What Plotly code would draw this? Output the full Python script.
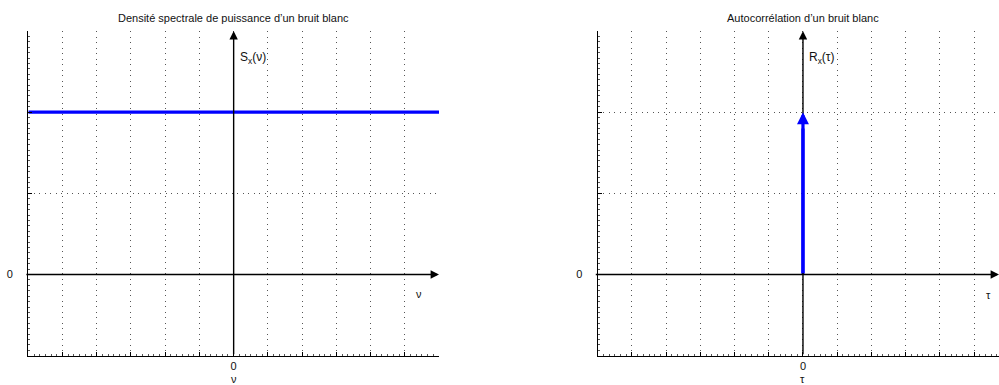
import plotly.graph_objects as go

# ---- data ----
nu_values = [-6, 6]            # frequency span of the flat PSD
psd_values = [2, 2]            # S_x(nu) = constant
tau_values = [0, 0]            # Dirac at tau = 0
autocorr_values = [0, 2]       # height of the Dirac arrow
x_ticks = [-6, -5, -4, -3, -2, -1, 0, 1, 2, 3, 4, 5, 6]
x_ticktext = ["", "", "", "", "", "", "0", "", "", "", "", "", ""]
y_ticks = [-1, 0, 1, 2, 3]
y_ticktext = ["", "0", "", "", ""]
left_title = "Densité spectrale de puissance d’un bruit blanc"
right_title = "Autocorrélation d’un bruit blanc"

W, H = 999, 385
FONT = "Liberation Sans, Arial, sans-serif"
GRIDC = "#555"

fig = go.Figure()
fig.add_trace(go.Scatter(x=nu_values, y=psd_values, mode="lines",
                         line=dict(color="#0000ff", width=3.2),
                         xaxis="x", yaxis="y", showlegend=False, hoverinfo="skip"))
fig.add_trace(go.Scatter(x=tau_values, y=[autocorr_values[0], autocorr_values[1] - 0.2], mode="lines",
                         line=dict(color="#0000ff", width=3.2),
                         xaxis="x2", yaxis="y2", showlegend=False, hoverinfo="skip"))

def px_x(p):
    return p / W

def px_y(p):
    return 1 - p / H

ydom = [px_y(355.7), px_y(31)]
xaxis_common = dict(
    tickmode="array", tickvals=x_ticks, ticktext=x_ticktext,
    showgrid=True, gridcolor=GRIDC, griddash="1px,4.5px", gridwidth=1,
    zeroline=False, showline=True, linecolor="black", linewidth=1.3,
    ticks="inside", ticklen=4, tickcolor="black", tickwidth=1,
    minor=dict(ticks="inside", ticklen=2, dtick=1 / 6, tickcolor="#555", showgrid=False),
    tickfont=dict(family=FONT, size=11, color="#111"),
    automargin=False, fixedrange=True,
)
yaxis_common = dict(
    range=[-1, 3], tickmode="array", tickvals=y_ticks, ticktext=y_ticktext,
    showgrid=True, gridcolor=GRIDC, griddash="1px,4.5px", gridwidth=1,
    zeroline=False, showline=True, linecolor="black", linewidth=1.3,
    ticks="inside", ticklen=4, tickcolor="black", tickwidth=1,
    minor=dict(ticks="inside", ticklen=2, dtick=1 / 15, tickcolor="#555", showgrid=False),
    tickfont=dict(family=FONT, size=11, color="#111"),
    ticklabelstandoff=12,
    automargin=False, fixedrange=True,
)

fig.update_layout(
    width=W, height=H,
    margin=dict(l=0, r=0, t=0, b=0),
    paper_bgcolor="white", plot_bgcolor="white",
    showlegend=False,
    xaxis=dict(xaxis_common, domain=[px_x(28.3), px_x(439)], range=[-6, 6], anchor="y"),
    yaxis=dict(yaxis_common, domain=ydom, anchor="x"),
    xaxis2=dict(xaxis_common, domain=[px_x(597.7), 1.0], range=[-6, 5.73], anchor="y2"),
    yaxis2=dict(yaxis_common, domain=ydom, anchor="x2"),
)

ann = []
def arrow(xref, yref, x0, y0, x1, y1, color="black", width=1.4, head=2, size=1.2):
    ann.append(dict(x=x1, y=y1, ax=x0, ay=y0, xref=xref, yref=yref,
                    axref=xref, ayref=yref, text="", showarrow=True,
                    arrowhead=head, arrowsize=size, arrowwidth=width,
                    arrowcolor=color, standoff=0, startstandoff=0))

# axis arrows, left panel
arrow("x", "y", -6.1, 0, 6, 0)
arrow("x", "y", 0, -1, 0, 3)
# axis arrows, right panel
arrow("x2", "y2", -6.1, 0, 5.73, 0)
arrow("x2", "y2", 0, -1, 0, 3)
# Dirac arrow
arrow("x2", "y2", tau_values[0], autocorr_values[0], tau_values[1], autocorr_values[1],
      color="#0000ff", width=3.2, head=2, size=0.75)

def txt(text, xref, yref, x, y, size=11, xanchor="center"):
    ann.append(dict(text=text, xref=xref, yref=yref, x=x, y=y, showarrow=False,
                    xanchor=xanchor, yanchor="middle",
                    font=dict(family=FONT, size=size, color="#111")))

txt(left_title, "x", "paper", 0, px_y(18))
txt(right_title, "x2", "paper", 0, px_y(18))
txt("S<sub>x</sub>(ν)", "x", "y", 0.12, 2.67, size=12, xanchor="left")
txt("R<sub>x</sub>(τ)", "x2", "y2", 0.12, 2.67, size=12, xanchor="left")
txt("ν", "x", "y", 5.43, -0.24)
txt("τ", "x2", "y2", 5.42, -0.25)
txt("ν", "x", "paper", 0, px_y(379))
txt("τ", "x2", "paper", 0, px_y(379))

fig.update_layout(annotations=ann)
fig.write_html("out.html", config={"displayModeBar": False},
               post_script="document.body.style.margin='0';document.body.style.overflow='hidden';")
